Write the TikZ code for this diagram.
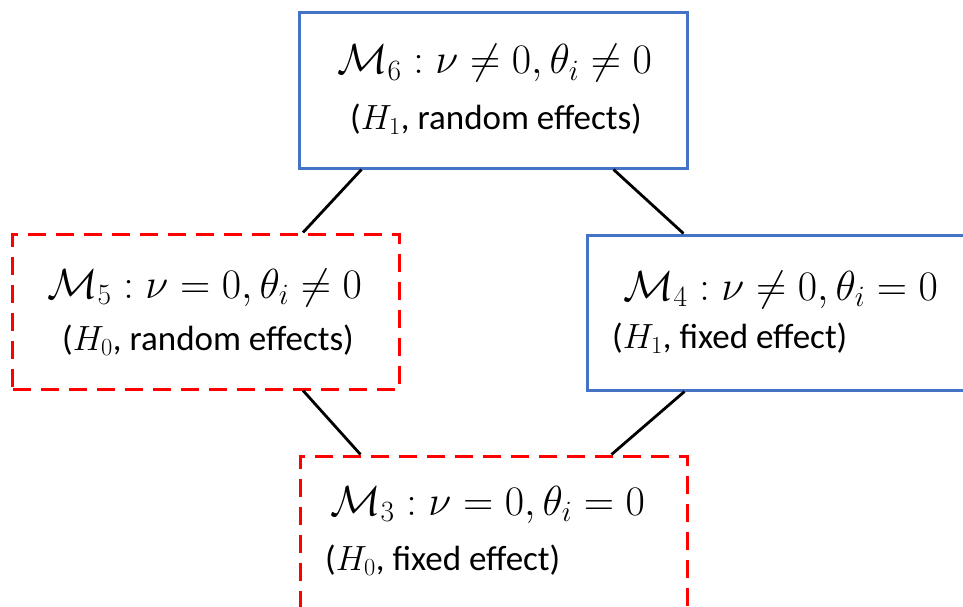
\RequirePackage{fix-cm}
\documentclass[tikz,border=0pt]{standalone}
\usepackage{amsmath,amssymb}
\usepackage{fontspec}
\setmainfont{Carlito}
\usepackage{xcolor}
\usepackage{tikz}
\usetikzlibrary{positioning,calc}
\definecolor{honeblue}{RGB}{68,114,196}
\definecolor{hzerored}{RGB}{255,0,0}

\begin{document}
\begin{tikzpicture}[x=1pt,y=-1pt,
    hone/.style={draw=honeblue, line width=3pt, minimum width=388pt, minimum height=155pt, inner sep=0pt},
    hzero/.style={draw=hzerored, line width=3pt, dash pattern=on 18pt off 10pt, minimum width=387pt, minimum height=155pt, inner sep=0pt},
    eqn/.style={anchor=base west, inner sep=0pt, font=\fontsize{42}{50}\selectfont},
    lbl/.style={anchor=base west, inner sep=0pt, font=\fontsize{35}{42}\selectfont},
    link/.style={draw=black, line width=2.8pt}]
  \useasboundingbox (0,0) rectangle (963,607);
  % model boxes
  \node[hone]  (m6) at (493,90.5)  {};
  \node[hzero] (m5) at (206,311.5) {};
  \node[hone]  (m4) at (781,312.5) {};
  \node[hzero] (m3) at (493.5,533.5) {};
  % texts inside the boxes
  \node[eqn] (m6eq) at (337,74) {$\mathcal{M}_6 : \nu \neq 0, \theta_i \neq 0$};
  \node[lbl] (m6lbl) at (350,129) {($H_1$, random effects)};
  \node[eqn] (m5eq) at (47,298) {$\mathcal{M}_5 : \nu = 0, \theta_i \neq 0$};
  \node[lbl] (m5lbl) at (62,350) {($H_0$, random effects)};
  \node[eqn] (m4eq) at (623,300) {$\mathcal{M}_4 : \nu \neq 0, \theta_i = 0$};
  \node[lbl] (m4lbl) at (612,348) {($H_1$, fixed effect)};
  \node[eqn] (m3eq) at (330,515) {$\mathcal{M}_3 : \nu = 0, \theta_i = 0$};
  \node[lbl] (m3lbl) at (325,570) {($H_0$, fixed effect)};
  % nesting lines
  \draw[link] ([xshift=64pt]m6.south west) -- ([xshift=-98pt]m5.north east);
  \draw[link] ([xshift=-75pt]m6.south east) -- ([xshift=98pt]m4.north west);
  \draw[link] ([xshift=-98pt]m5.south east) -- ([xshift=62pt]m3.north west);
  \draw[link] ([xshift=99pt]m4.south west) -- ([xshift=-77pt]m3.north east);
\end{tikzpicture}
\end{document}
